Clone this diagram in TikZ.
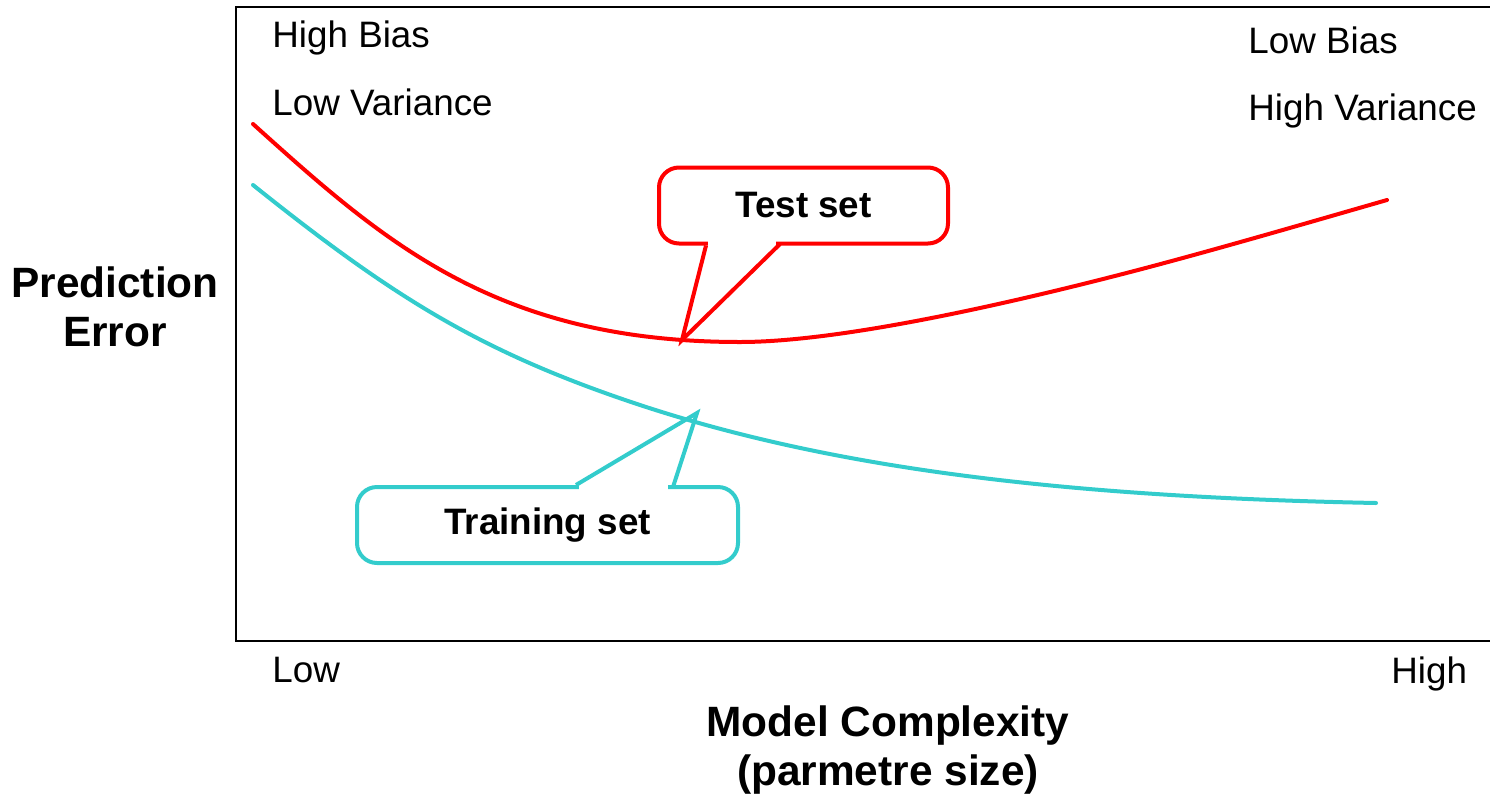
\documentclass[tikz,border=0pt]{standalone}
\usepackage{fontspec}
\setmainfont{Liberation Sans}
\usetikzlibrary{positioning}

\definecolor{testred}{RGB}{255,0,0}
\definecolor{trainteal}{RGB}{51,204,204}

\begin{document}
\begin{tikzpicture}[x=.5pt,y=-.5pt,
  curve/.style={line width=2pt,line cap=round,line join=round},
  callbox/.style={line width=2pt,rounded corners=10pt,minimum width=#1,minimum height=38pt,font=\bfseries\fontsize{18.4}{22}\selectfont},
  lbl/.style={font=\fontsize{18.4}{22}\selectfont,inner sep=0pt},
  axislbl/.style={font=\bfseries\fontsize{21.2}{24.5}\selectfont,align=center,inner sep=0pt}]
  \useasboundingbox (0,0) rectangle (1490,794);
  % frame, open on the right
  \draw[line width=1pt] (1490,7) -- (236,7) -- (236,641) -- (1490,641);
  % error curves
  \draw[curve,testred] (253,124) .. controls (383,241) and (495,342) .. (740,342)
    .. controls (840,342) and (1008,304) .. (1138,270)
    .. controls (1218,249) and (1307,223) .. (1387,200);
  \draw[curve,trainteal] (253,185) .. controls (393,297) and (480,352) .. (640,405)
    .. controls (840,471) and (1076,497) .. (1376,503);
  % callouts
  \node[callbox=144.5pt,draw=testred] (testbox) at (803.5,205.5) {Test set};
  \node[callbox=190.5pt,draw=trainteal] (trainbox) at (547.5,525) {Training set};
  \coordinate (testtip) at (682,340);
  \coordinate (traintip) at (697,413);
  \fill[white] (testbox.south west) ++(51,-7) rectangle ++(68,12);
  \draw[testred,line width=2pt] (testbox.south west) ++(49,0) -- (testtip) -- ++(98,-96);
  \fill[white] (trainbox.north west) ++(224,-5) rectangle ++(89,12);
  \draw[trainteal,line width=2pt] (trainbox.north west) ++(221,0) -- (traintip) -- ++(-24,74);
  % labels
  \node[lbl,anchor=base west] (hibias) at (272,47) {High Bias};
  \node[lbl,anchor=base west] (lovar) at (272,115) {Low Variance};
  \node[lbl,anchor=base west] (lobias) at (1248,53) {Low Bias};
  \node[lbl,anchor=base west] (hivar) at (1248,120) {High Variance};
  \node[lbl,anchor=base west] (low) at (272,682) {Low};
  \node[lbl,anchor=base west] (high) at (1391,683) {High};
  \node[axislbl] (yname) at (115,307) {Prediction\\Error};
  \node[axislbl] (xname) at (888,750) {Model Complexity\\(parmetre size)};
\end{tikzpicture}
\end{document}
